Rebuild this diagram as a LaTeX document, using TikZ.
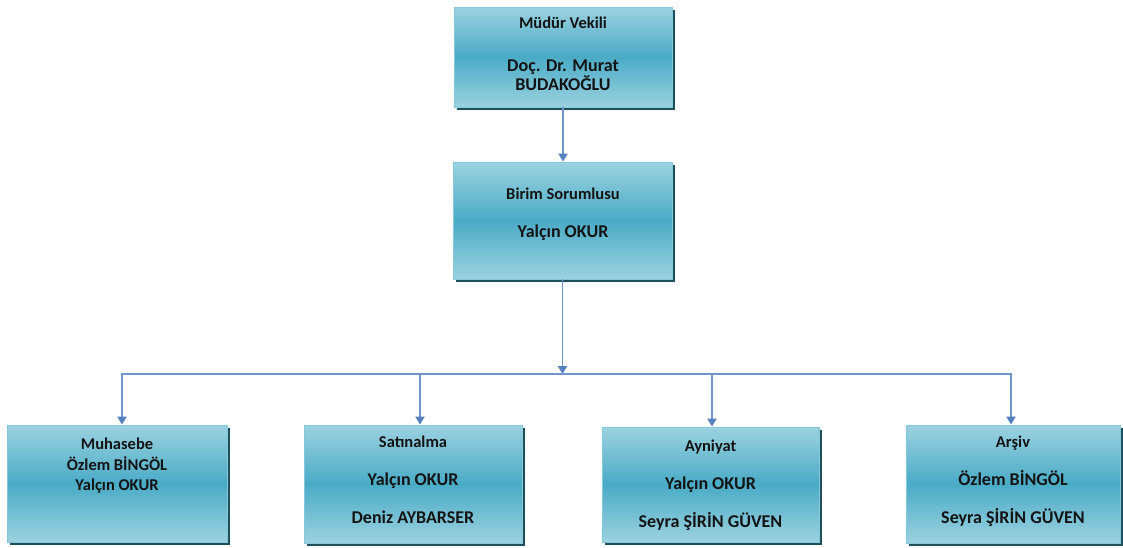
\documentclass[tikz,border=0pt]{standalone}
\usepackage{fontspec}
\setmainfont{Carlito}
\usetikzlibrary{shadows,arrows.meta}
\definecolor{boxlight}{HTML}{9CD2E0}
\definecolor{boxmid}{HTML}{4AABC6}
\definecolor{boxedge}{HTML}{86C8DA}
\definecolor{boxshadow}{HTML}{1E4F5C}
\definecolor{connc}{HTML}{6F95CC}
\definecolor{tipc}{HTML}{5581C0}
\definecolor{txt}{HTML}{141414}
\tikzset{
 orgbox/.style={draw=boxedge, line width=0.8pt, top color=boxlight, bottom color=boxlight, middle color=boxmid,
   drop shadow={fill=boxshadow, opacity=1, shadow xshift=3pt, shadow yshift=-3pt}, inner sep=0pt},
 ttl/.style={anchor=base, font=\bfseries\fontsize{16.5}{19}\selectfont, text=txt, inner sep=0pt},
 nm/.style={anchor=base, font=\bfseries\fontsize{18}{21}\selectfont, text=txt, inner sep=0pt},
 sm/.style={anchor=base, font=\bfseries\fontsize{16.5}{19}\selectfont, text=txt, inner sep=0pt},
 conn/.style={draw=connc, line width=1.9pt},
 arr/.style={conn, -{Triangle[length=8pt,width=9pt,fill=tipc,color=tipc]}},
}
\begin{document}
\begin{tikzpicture}[x=1pt,y=-1pt]
\useasboundingbox[fill=white] (0,0) rectangle (1123,547);
% boxes
\node[orgbox, minimum width=218pt, minimum height=100pt] (top) at (563,57) {};
\node[orgbox, minimum width=219pt, minimum height=117pt] (b2) at (562.5,220.5) {};
\node[orgbox, minimum width=220pt, minimum height=117pt] (muh) at (117,483.5) {};
\node[orgbox, minimum width=218pt, minimum height=118pt] (sat) at (413,484) {};
\node[orgbox, minimum width=217pt, minimum height=115pt] (ayn) at (710.5,484.5) {};
\node[orgbox, minimum width=214pt, minimum height=118pt] (ars) at (1013,484) {};
% texts
\node[ttl] (t1) at (563,28) {Müdür Vekili};
\node[nm] (t2) at (563,71) {Doç. Dr. Murat};
\node[nm] (t3) at (563,90) {BUDAKOĞLU};
\node[ttl] (s1) at (563,199) {Birim Sorumlusu};
\node[nm] (s2) at (563,237) {Yalçın OKUR};
\node[sm] (m1) at (117,449) {Muhasebe};
\node[sm] (m2) at (117,470) {Özlem BİNGÖL};
\node[sm] (m3) at (117,490) {Yalçın OKUR};
\node[ttl] (a1) at (413,447) {Satınalma};
\node[nm] (a2) at (413,485) {Yalçın OKUR};
\node[nm] (a3) at (413,523) {Deniz AYBARSER};
\node[ttl] (y1) at (710.5,451) {Ayniyat};
\node[nm] (y2) at (710.5,489) {Yalçın OKUR};
\node[nm] (y3) at (710.5,527) {Seyra ŞİRİN GÜVEN};
\node[ttl] (r1) at (1013,447) {Arşiv};
\node[nm] (r2) at (1013,485) {Özlem BİNGÖL};
\node[nm] (r3) at (1013,523) {Seyra ŞİRİN GÜVEN};
% connectors
\coordinate (bus) at (563,374);
\coordinate (bm) at (122,374);
\coordinate (bs) at (420,374);
\coordinate (ba) at (712,374);
\coordinate (br) at (1011,374);
\draw[arr] (top.south) -- (top.south |- b2.north);
\draw[arr] (b2.south) -- (b2.south |- bus);
\draw[arr] (bus) -- (bm) -- (bm |- muh.north);
\draw[arr] (bus) -- (br) -- (br |- ars.north);
\draw[arr] (bs) -- (bs |- sat.north);
\draw[arr] (ba) -- (ba |- ayn.north);
\end{tikzpicture}
\end{document}
